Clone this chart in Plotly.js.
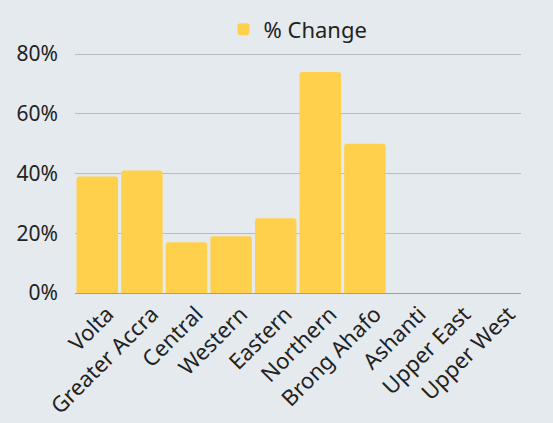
<!DOCTYPE html>
<html><head><meta charset="utf-8">
<script src="https://cdn.plot.ly/plotly-3.0.1.min.js"></script>
<style>html,body{margin:0;padding:0;background:#e5eaef;}</style>
</head><body>
<div id="chart" style="width:553px;height:423px;"></div>
<script>
var regions = ["Volta","Greater Accra","Central","Western","Eastern","Northern","Brong Ahafo","Ashanti","Upper East","Upper West"];
var pctChange = [0.39,0.41,0.17,0.19,0.25,0.74,0.50,0,0,0];
var yTicks = [0,0.2,0.4,0.6,0.8];
var yTickLabels = ["0%","20%","40%","60%","80%"];

Plotly.newPlot("chart", [{
  type: "bar",
  x: regions,
  y: pctChange,
  name: "% Change",
  marker: {color: "#ffd04b", cornerradius: 3},
  showlegend: true
}], {
  width: 553, height: 423,
  paper_bgcolor: "#e5eaef",
  plot_bgcolor: "#e5eaef",
  font: {family: "'Noto Sans', sans-serif", size: 20, color: "#222"},
  margin: {l: 75, r: 32, t: 52, b: 130},
  bargap: 0.07,
  showlegend: true,
  legend: {orientation: "h", x: 0.5, xanchor: "center", yref: "container", y: 0.98, yanchor: "top", font: {size: 22}},
  xaxis: {tickangle: -45, showgrid: false, zeroline: false, showline: false, ticks: "", automargin: false, tickfont: {size: 22}, ticklabelshift: 10, ticklabelstandoff: 3},
  yaxis: {range: [0, 0.807], tickvals: yTicks, ticktext: yTickLabels, gridcolor: "#b9bdc2", zeroline: true, zerolinecolor: "#9a9ea3", zerolinewidth: 1, ticks: "", ticklabelstandoff: 16, automargin: false, tickfont: {size: 21}}
}, {displayModeBar: false, staticPlot: true});
</script>
</body></html>
